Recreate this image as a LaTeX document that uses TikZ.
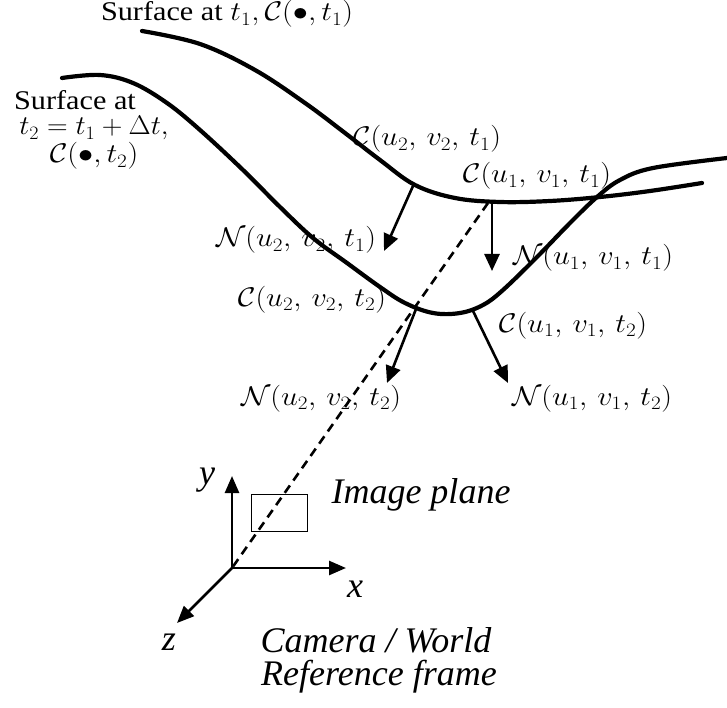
\RequirePackage{fix-cm}
\documentclass[tikz,border=0pt]{standalone}
\usepackage{fontspec}
\setmainfont{Liberation Serif}
\usetikzlibrary{arrows.meta}
\newcommand{\wide}[1]{\scalebox{1.12}[1]{#1}}
\begin{document}
\begin{tikzpicture}[x=1pt,y=-1pt,
  surf/.style={line width=4.2pt, line cap=round},
  normal/.style={line width=2.6pt, -{Triangle[length=17pt,width=15pt]}},
  axis/.style={line width=2.6pt, -{Triangle[length=17pt,width=14pt]}},
  ray/.style={line width=2.6pt, dash pattern=on 9pt off 6pt},
  lbl/.style={inner sep=0pt, anchor=base, font=\fontsize{27}{32}\selectfont},
  ital/.style={inner sep=0pt, anchor=base, font=\fontsize{36}{42}\selectfont\itshape}]
\useasboundingbox (0,0) rectangle (727,708);
% surfaces
\draw[surf] plot[smooth, tension=0.6] coordinates {(142,31) (200,44) (255,70) (305,103) (345,133) (380,160) (415,185) (455,198) (500,202) (550,201) (600,197) (650,191) (702,183)};
\draw[surf] plot[smooth, tension=0.6] coordinates {(62,78) (100,75) (133,83) (167,103) (200,130) (243,170) (280,207) (313,238) (347,263) (380,287) (405,303) (433,313) (460,313) (483,305) (503,290) (537,257) (570,223) (597,197) (620,180) (653,168) (727,158)};
% points
\coordinate (c21) at (413,186);
\coordinate (n21) at (384,251);
\coordinate (c11) at (492,202);
\coordinate (n11) at (492,271);
\coordinate (c22) at (416,309);
\coordinate (n22) at (387,383);
\coordinate (c12) at (473,311);
\coordinate (n12) at (508,383);
\coordinate (ray) at (488,203);
\coordinate (O) at (232,568);
\coordinate (X) at (346,568);
\coordinate (Y) at (232,476);
\coordinate (Z) at (177,623);
% normals
\draw[normal] (c21) -- (n21);
\draw[normal] (c11) -- (n11);
\draw[normal] (c22) -- (n22);
\draw[normal] (c12) -- (n12);
% ray
\draw[ray] (ray) -- (O);
% axes
\draw[axis] (O) -- (X);
\draw[axis] (O) -- (Y);
\draw[axis] (O) -- (Z);
% image plane
\node[draw, line width=1.1pt, minimum width=56pt, minimum height=37.5pt, inner sep=0pt] (img) at (279.7,513) {};
% labels
\node[lbl] (s1) at (227,21) {\wide{Surface at $t_1, \mathcal{C}(\bullet,t_1)$}};
\node[lbl] (s2a) at (75,110) {\wide{Surface at}};
\node[lbl] (s2b) at (94,135) {\scalebox{1.06}[1]{$t_2=t_1+\Delta t,$}};
\node[lbl] (s2c) at (94,163) {\wide{$\mathcal{C}(\bullet,t_2)$}};
\node[lbl] (C21) at (427,146) {\wide{$\mathcal{C}(u_2,\,v_2,\,t_1)$}};
\node[lbl] (C11) at (537,183) {\wide{$\mathcal{C}(u_1,\,v_1,\,t_1)$}};
\node[lbl] (N21) at (296,247) {\wide{$\mathcal{N}(u_2,\,v_2,\,t_1)$}};
\node[lbl] (N11) at (593,265) {\wide{$\mathcal{N}(u_1,\,v_1,\,t_1)$}};
\node[lbl] (C22) at (312,306) {\wide{$\mathcal{C}(u_2,\,v_2,\,t_2)$}};
\node[lbl] (C12) at (573,332) {\wide{$\mathcal{C}(u_1,\,v_1,\,t_2)$}};
\node[lbl] (N22) at (321,405) {\wide{$\mathcal{N}(u_2,\,v_2,\,t_2)$}};
\node[lbl] (N12) at (592,405) {\wide{$\mathcal{N}(u_1,\,v_1,\,t_2)$}};
\node[ital] (xl) at (355,597) {x};
\node[ital] (yl) at (207,484) {y};
\node[ital] (zl) at (169,650) {z};
\node[ital] (ip) at (421,503) {Image plane};
\node[ital] (cw) at (376,652) {Camera / World};
\node[ital] (rf) at (379,685) {Reference frame};
\end{tikzpicture}
\end{document}
